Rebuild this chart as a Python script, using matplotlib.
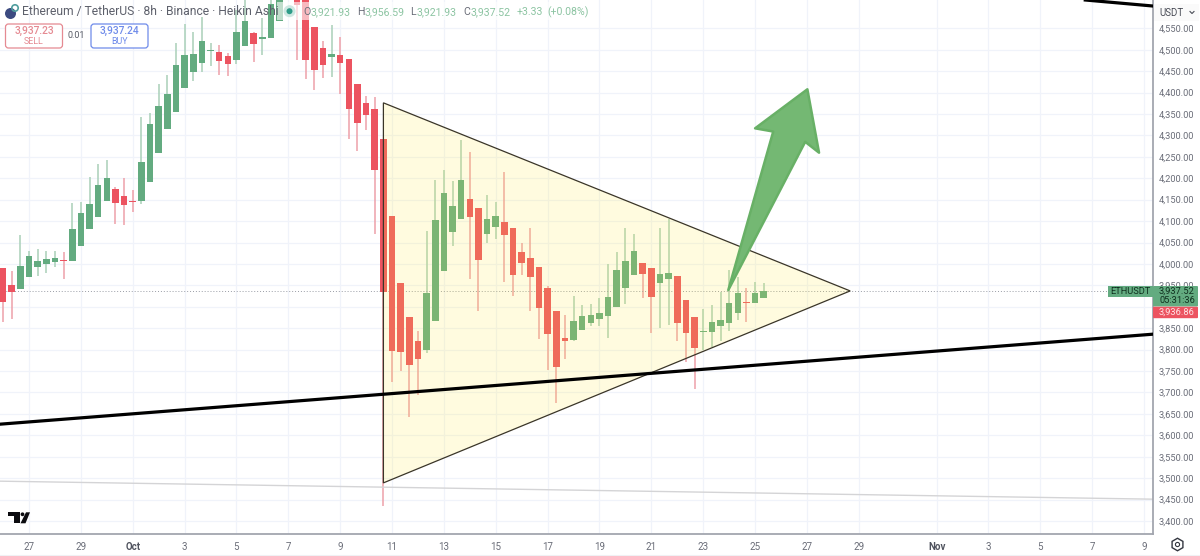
"""Recreate the ETH/USDT 8h Heikin Ashi chart with a triangle drawing and breakout arrow."""

import matplotlib

matplotlib.use("Agg")
import matplotlib.pyplot as plt
from matplotlib.patches import Circle, FancyBboxPatch, Polygon, Rectangle

plt.rcParams["font.family"] = ["Roboto", "DejaVu Sans"]

# candles, one per 8h bar, bar 0 is the first visible on the left
opens = [3990, 3952, 3942, 3969, 3994, 4000, 4005, 4009, 4008, 4043, 4082, 4110, 4147,
         4174, 4159, 4148, 4146, 4192, 4259, 4314, 4355, 4410, 4448, 4470, 4496, 4495,
         4485, 4476, 4509, 4539, 4526, 4527, 4567, 4635, 4650, 4640, 4554, 4504, 4484,
         4488, 4478, 4421, 4376, 4362, 4292, 4113, 3955, 3875, 3819, 3798, 3866, 3984,
         4075, 4106, 4152, 4131, 4070, 4087, 4099, 4084, 4029, 4015, 3993, 3945, 3891,
         3826, 3823, 3845, 3862, 3872, 3879, 3900, 3944, 3975, 4003, 3990, 3956, 3966,
         3972, 3916, 3877, 3840, 3841, 3854, 3862, 3886, 3910, 3908, 3920]
highs = [3990, 3984, 4067, 4031, 4036, 4031, 4031, 4029, 4143, 4145, 4204, 4233, 4243,
         4180, 4200, 4173, 4342, 4353, 4421, 4440, 4515, 4560, 4541, 4577, 4515, 4510,
         4493, 4593, 4625, 4542, 4573, 4640, 4690, 4720, 4680, 4660, 4554, 4521, 4557,
         4530, 4478, 4421, 4392, 4389, 4292, 4113, 3955, 3875, 3843, 4078, 4196, 4219,
         4194, 4289, 4262, 4131, 4162, 4144, 4215, 4084, 4050, 4085, 3993, 3949, 3891,
         3881, 3925, 3904, 3907, 3920, 4000, 4029, 4085, 4069, 4003, 3990, 4083, 4106,
         3972, 3916, 3877, 3895, 3904, 3934, 3987, 3970, 3943, 3959, 3955]
lows = [3865, 3871, 3942, 3969, 3972, 3980, 3992, 3966, 4008, 4043, 4082, 4110, 4147,
        4094, 4090, 4121, 4141, 4192, 4259, 4314, 4355, 4410, 4426, 4448, 4462, 4441,
        4439, 4467, 4509, 4472, 4488, 4527, 4567, 4625, 4476, 4431, 4407, 4435, 4437,
        4397, 4291, 4264, 4313, 4071, 3435, 3725, 3749, 3642, 3694, 3793, 3866, 3984,
        4042, 4106, 3964, 3889, 4048, 4059, 3958, 3926, 3974, 3891, 3825, 3752, 3675,
        3777, 3819, 3845, 3854, 3854, 3826, 3900, 3907, 3975, 3921, 3838, 3850, 3858,
        3821, 3770, 3709, 3799, 3807, 3819, 3844, 3869, 3865, 3908, 3920]
closes = [3912, 3934, 3996, 4018, 4008, 4011, 4013, 4006, 4081, 4120, 4139, 4184, 4201,
          4142, 4138, 4145, 4238, 4327, 4369, 4396, 4464, 4488, 4490, 4520, 4499, 4474,
          4467, 4542, 4568, 4513, 4528, 4607, 4660, 4690, 4604, 4476, 4453, 4465, 4491,
          4468, 4362, 4330, 4348, 4220, 3935, 3797, 3795, 3764, 3777, 3932, 4103, 4166,
          4136, 4197, 4110, 4010, 4104, 4112, 4068, 3974, 4003, 3970, 3896, 3837, 3760,
          3821, 3866, 3879, 3880, 3886, 3922, 3986, 4006, 4031, 3976, 3923, 3976, 3979,
          3861, 3838, 3803, 3843, 3865, 3869, 3908, 3932, 3908, 3932, 3936]

# drawings on the chart: bar index and price
triangle_bars = [44, 44, 98]
triangle_prices = [4376, 3489, 3937]
arrow_bars = [83.9, 89.1, 87.0, 93.05, 94.4, 92.8]
arrow_prices = [3939, 4309, 4316.5, 4407.6, 4259.6, 4285]
support_bars = [-0.36, 133.0]
support_prices = [3626, 3836]
upper_bars = [125.2, 133.0]
upper_prices = [4616, 4602]
lower_bars = [-0.36, 133.0]
lower_prices = [3493, 3451]
last_price = 3937.52

# axes ticks
tick_bars = [3, 9, 15, 21, 27, 33, 39, 45, 51, 57, 63, 69, 75, 81, 87, 93, 99, 108, 114, 120, 126, 132]
tick_labels = ["27", "29", "Oct", "3", "5", "7", "9", "11", "13", "15", "17", "19", "21",
               "23", "25", "27", "29", "Nov", "3", "5", "7", "9"]
bold_ticks = ["Oct", "Nov"]
price_ticks = list(range(3400, 4551, 50))
hidden_price_labels = [3900]  # sits fully behind the price tags

GREEN = "#63ab80"
GREEN_WICK = "#a9d0b8"
RED = "#ec5360"
RED_WICK = "#eea0a9"
GRID = "#f0f3fa"
AXIS = "#a3a6af"
TEXT = "#6a6d78"


def draw_candles(ax):
    for i, (o, h, l, c) in enumerate(zip(opens, highs, lows, closes)):
        up = c >= o
        ax.plot([i, i], [l, h], color=GREEN_WICK if up else RED_WICK, lw=1.1,
                solid_capstyle="butt", zorder=2)
        body = max(abs(c - o), 2.5)
        ax.bar(i, body, bottom=min(o, c), width=0.76, color=GREEN if up else RED, zorder=3)


def draw_drawings(ax):
    ax.axhline(last_price, color="#9a9da6", lw=0.7, ls=(0, (1, 2)), zorder=2)
    ax.plot(lower_bars, lower_prices, color="#d4d4d6", lw=1.0, zorder=2)
    ax.add_patch(Polygon(list(zip(triangle_bars, triangle_prices)), closed=True,
                         facecolor="#ffeb3b", alpha=0.16, edgecolor="none", zorder=4))
    ax.add_patch(Polygon(list(zip(triangle_bars, triangle_prices)), closed=True,
                         fill=False, edgecolor="#3a3528", lw=0.9, zorder=5))
    ax.plot(support_bars, support_prices, color="#000000", lw=2.3, zorder=6)
    ax.plot(upper_bars, upper_prices, color="#000000", lw=2.3, zorder=6)
    ax.add_patch(Polygon(list(zip(arrow_bars, arrow_prices)), closed=True, facecolor="#74b873",
                         edgecolor="#68b066", lw=1.8, joinstyle="round", zorder=7))


def draw_overlay(ov):
    # header
    ov.add_patch(Rectangle((277, 2), 313, 18, facecolor="white", alpha=0.6, edgecolor="none"))
    ov.add_patch(Circle((10.5, 13.5), 5.5, facecolor="#3c4a80", edgecolor="none"))
    ov.add_patch(Circle((15, 8), 3.2, facecolor="none", edgecolor="#4f9d9d", lw=1.2))
    ov.text(22, 12, "Ethereum / TetherUS · 8h · Binance · Heikin Ashi", fontsize=8.75, color="#5d606b",
            va="center", ha="left")
    ov.add_patch(Circle((289.5, 11.2), 6, facecolor="#cfe8e2", edgecolor="none"))
    ov.add_patch(Circle((289.5, 11.2), 3, facecolor="#2f9c88", edgecolor="none"))
    ohlc = [(303, "O", "#6a6d78"), (311, "3,921.93", "#8cc4a2"), (357, "H", "#6a6d78"),
            (365, "3,956.59", "#8cc4a2"), (410, "L", "#6a6d78"), (417, "3,921.93", "#8cc4a2"),
            (463, "C", "#6a6d78"), (471, "3,937.52", "#8cc4a2"), (517, "+3.33", "#8cc4a2"),
            (547, "(+0.08%)", "#8cc4a2")]
    for x, label, color in ohlc:
        ov.text(x, 12, label, fontsize=7.6, color=color, va="center", ha="left")

    # sell / buy boxes
    for x, w, edge, price, side in [(5.5, 57, "#e58a92", "3,937.23", "SELL"),
                                    (91, 57, "#6f8bea", "3,937.24", "BUY")]:
        ov.add_patch(FancyBboxPatch((x, 24), w, 24, boxstyle="round,pad=0,rounding_size=3",
                                    facecolor="white", edgecolor=edge, lw=0.9))
        ov.text(x + w / 2, 31, price, fontsize=7.4, color=edge, ha="center", va="center", fontweight="medium")
        ov.text(x + w / 2, 41.5, side, fontsize=6.4, color=edge, ha="center", va="center")
    ov.text(76.5, 35.5, "0.01", fontsize=6.4, color="#555862", ha="center", va="center")

    # tradingview logo
    ov.add_patch(Polygon([(8, 512.3), (19.5, 512.3), (19.5, 523.3), (13.5, 523.3), (13.5, 516), (8, 516)],
                         closed=True, facecolor="#0b0b0f", edgecolor="none"))
    ov.add_patch(Circle((22.5, 514.3), 1.9, facecolor="#0b0b0f", edgecolor="none"))
    ov.add_patch(Polygon([(26, 512.3), (30, 512.3), (25.5, 523.3), (20.5, 523.3)], closed=True,
                         facecolor="#0b0b0f", edgecolor="none"))

    # right axis tags
    ov.add_patch(Rectangle((1153.5, 4), 45, 17, facecolor="#fafafa", edgecolor="none"))
    ov.text(1159, 12.5, "USDT", fontsize=7.0, color="#4a4d57", va="center", ha="left")
    ov.plot([1190, 1192, 1194], [11.5, 13.5, 11.5], color="#4a4d57", lw=0.8)
    ov.add_patch(Rectangle((1108, 285.7), 45, 11.5, facecolor=GREEN, edgecolor="none"))
    ov.text(1130.5, 291.5, "ETHUSDT", fontsize=6.7, color="#10301f", ha="center", va="center")
    ov.add_patch(FancyBboxPatch((1153, 286), 45, 20.5, boxstyle="round,pad=0,rounding_size=1",
                                facecolor=GREEN, edgecolor="none", zorder=3))
    ov.text(1159, 291, "3,937.52", fontsize=6.7, color="#10301f", va="center", ha="left", zorder=4)
    ov.text(1159, 300.5, "05:31:36", fontsize=6.7, color="#10301f", va="center", ha="left", zorder=4)
    ov.add_patch(FancyBboxPatch((1153, 306.7), 45, 11.5, boxstyle="round,pad=0,rounding_size=1",
                                facecolor=RED, edgecolor="none", zorder=3))
    ov.text(1159, 312.5, "3,936.86", fontsize=6.7, color="#ffe3e5", va="center", ha="left", zorder=4)

    # settings icon and footer rule
    ov.plot([1177], [544], marker="h", ms=9, mfc="none", mec="#333640", mew=1.0)
    ov.plot([1177], [544], marker="o", ms=3, mfc="none", mec="#333640", mew=0.8)
    ov.plot([0, 1200], [554.5, 554.5], color="#f0f1f4", lw=0.8)


def main():
    fig = plt.figure(figsize=(12, 5.56), dpi=100, facecolor="white")
    ax = fig.add_axes([0, (556 - 533.7) / 556, 1152.7 / 1200, 533.7 / 556])
    ax.set_xlim(-0.355, 133.0)
    ax.set_ylim(3370.4, 4616)
    ax.set_xticks(tick_bars)
    ax.set_xticklabels(tick_labels, fontsize=7.0, color=TEXT)
    for label in ax.get_xticklabels():
        if label.get_text() in bold_ticks:
            label.set_fontweight("bold")
            label.set_color("#50535e")
    ax.set_yticks(price_ticks)
    ax.set_yticklabels(["" if p in hidden_price_labels else f"{p:,.2f}" for p in price_ticks],
                       fontsize=6.7, color=TEXT)
    ax.yaxis.tick_right()
    ax.tick_params(axis="both", length=0)
    ax.tick_params(axis="x", pad=6)
    ax.tick_params(axis="y", pad=4.3)
    ax.grid(True, color=GRID, lw=0.9)
    ax.set_axisbelow(True)
    for side in ("top", "left"):
        ax.spines[side].set_visible(False)
    for side in ("right", "bottom"):
        ax.spines[side].set_color(AXIS)
        ax.spines[side].set_linewidth(1.3)

    draw_candles(ax)
    draw_drawings(ax)

    # pixel-positioned overlay for the TradingView furniture
    ov = fig.add_axes([0, 0, 1, 1], facecolor="none")
    ov.set_xlim(0, 1200)
    ov.set_ylim(556, 0)
    ov.axis("off")
    draw_overlay(ov)

    fig.savefig("out.png", dpi=100)
    plt.close(fig)


if __name__ == "__main__":
    main()
